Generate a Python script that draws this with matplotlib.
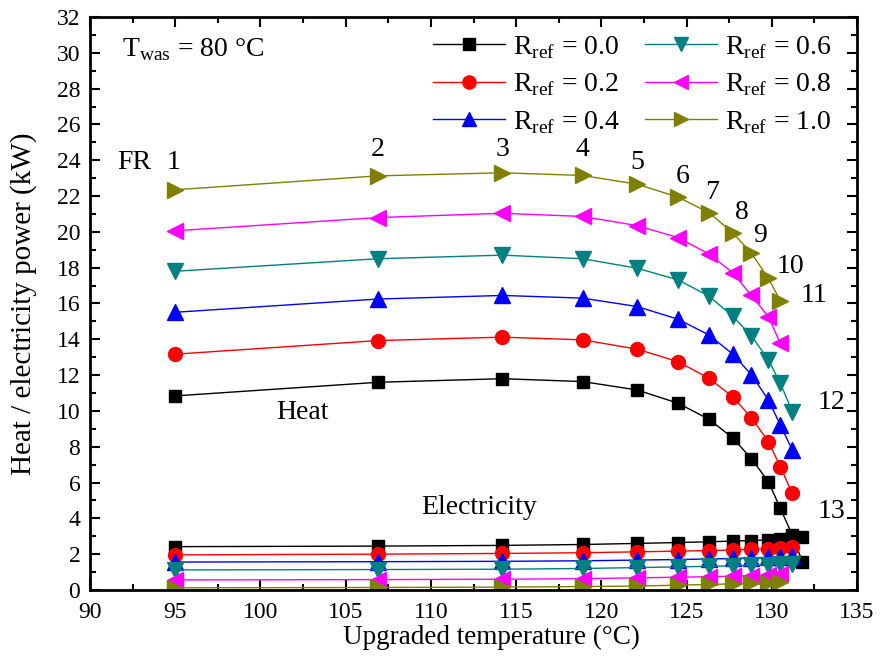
import numpy as np
import matplotlib.pyplot as plt
from matplotlib.ticker import MultipleLocator

plt.rcParams['font.family'] = ['Liberation Serif', 'DejaVu Serif']
plt.rcParams['mathtext.fontset'] = 'custom'
plt.rcParams['mathtext.rm'] = 'Liberation Serif'

# upgraded temperature at each FR point (°C)
T_up = [95.0, 106.9, 114.2, 118.9, 122.1, 124.5, 126.3, 127.7, 128.8, 129.8, 130.5, 131.2, 131.8]

r_ref = ['0.0', '0.2', '0.4', '0.6', '0.8', '1.0']

# heat output (kW)
heat_00 = [10.84, 11.6, 11.8, 11.64, 11.17, 10.43, 9.54, 8.5, 7.33, 6.05, 4.56, 3.07, 1.56]
heat_02 = [13.17, 13.93, 14.12, 13.97, 13.45, 12.75, 11.83, 10.8, 9.62, 8.29, 6.89, 5.4]
heat_04 = [15.51, 16.25, 16.45, 16.3, 15.83, 15.12, 14.25, 13.18, 12.03, 10.61, 9.22, 7.82]
heat_06 = [17.8, 18.5, 18.7, 18.5, 17.97, 17.32, 16.42, 15.3, 14.2, 12.85, 11.55, 9.96]
heat_08 = [20.06, 20.8, 21.04, 20.86, 20.35, 19.68, 18.77, 17.73, 16.45, 15.27, 13.78]
heat_10 = [22.35, 23.13, 23.3, 23.15, 22.66, 21.94, 21.08, 19.96, 18.81, 17.41, 16.15]

# electricity consumption (kW)
elec_00 = [2.42, 2.45, 2.49, 2.54, 2.6, 2.65, 2.69, 2.73, 2.76, 2.8, 2.86, 2.92, 2.95]
elec_02 = [1.96, 2.0, 2.04, 2.08, 2.13, 2.17, 2.2, 2.23, 2.27, 2.31, 2.35, 2.4]
elec_04 = [1.56, 1.58, 1.6, 1.63, 1.67, 1.7, 1.73, 1.76, 1.79, 1.82, 1.84, 1.87]
elec_06 = [1.12, 1.14, 1.16, 1.2, 1.25, 1.29, 1.32, 1.35, 1.38, 1.41, 1.44, 1.46]
elec_08 = [0.56, 0.58, 0.6, 0.63, 0.68, 0.71, 0.74, 0.77, 0.8, 0.84, 0.88]
elec_10 = [0.12, 0.14, 0.16, 0.19, 0.22, 0.27, 0.31, 0.34, 0.37, 0.4, 0.43]

heats = [heat_00, heat_02, heat_04, heat_06, heat_08, heat_10]
elecs = [elec_00, elec_02, elec_04, elec_06, elec_08, elec_10]
colors = ['black', 'red', 'blue', '#008080', '#FF00FF', '#808000']
markers = ['s', 'o', '^', 'v', '<', '>']
msizes = [9, 10, 11, 11, 11, 11]

# FR label positions
fr_lbl = ['1', '2', '3', '4', '5', '6', '7', '8', '9', '10', '11', '12', '13']
fr_x = [94.9, 106.9, 114.2, 118.9, 122.1, 124.8, 126.5, 128.25, 129.3, 131.1, 132.5, 133.5, 133.5]
fr_y = [23.9, 24.6, 24.6, 24.6, 23.85, 23.07, 22.18, 21.06, 19.78, 18.04, 16.42, 10.45, 4.41]

fig = plt.figure(figsize=(8.85, 6.62), dpi=100)
ax = fig.add_axes([0.1017, 0.1088, 0.8667, 0.8655])

for i in range(6):
    n = len(heats[i])
    ax.plot(T_up[:n], heats[i], color=colors[i], marker=markers[i], ms=msizes[i], lw=1,
            label=r'R$_{\rm ref}$ = ' + r_ref[i])
    n = len(elecs[i])
    ax.plot(T_up[:n], elecs[i], color=colors[i], marker=markers[i], ms=msizes[i], lw=1)

for i in range(len(fr_lbl)):
    ax.text(fr_x[i], fr_y[i], fr_lbl[i], fontsize=20, ha='center', va='center')
ax.text(92.6, 23.85, 'FR', fontsize=20, ha='center', va='center')
ax.text(102.45, 9.89, 'Heat', fontsize=20, ha='center', va='center')
ax.text(112.8, 4.6, 'Electricity', fontsize=20, ha='center', va='center')
ax.text(91.9, 30.2, r'T$_{\rm was}$ = 80 °C', fontsize=20, ha='left', va='center')

ax.set_xlim(90, 135)
ax.set_ylim(0, 32)
ax.xaxis.set_major_locator(MultipleLocator(5))
ax.xaxis.set_minor_locator(MultipleLocator(2.5))
ax.yaxis.set_major_locator(MultipleLocator(2))
ax.yaxis.set_minor_locator(MultipleLocator(1))
ax.tick_params(which='both', direction='in', top=True, right=True, labelsize=17, width=1.5)
ax.tick_params(which='major', length=7)
ax.tick_params(axis='x', which='major', pad=9)
ax.tick_params(axis='y', which='major', pad=7)
ax.tick_params(which='minor', length=4)
for s in ax.spines.values():
    s.set_linewidth(2)

ax.set_xlabel('Upgraded temperature (°C)', fontsize=19.5)
ax.set_ylabel('Heat / electricity power (kW)', fontsize=21, labelpad=14)
ax.xaxis.set_label_coords(0.523, -0.061)

ax.legend(ncol=2, loc='upper right', bbox_to_anchor=(1.0, 1.014), frameon=False, fontsize=20,
          handlelength=2.6, columnspacing=0.9, labelspacing=0.38, handletextpad=0.3,
          markerscale=0.95)

plt.savefig('out.png', dpi=100)
